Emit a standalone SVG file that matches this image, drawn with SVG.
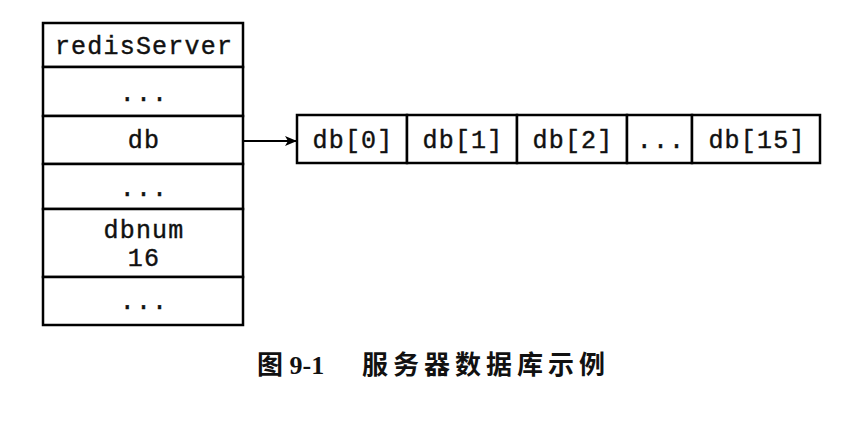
<svg xmlns="http://www.w3.org/2000/svg" width="860" height="426" viewBox="0 0 860 426">
<style>
.box{fill:#fff;stroke:#000;stroke-width:2.5}
.t{font-family:"Liberation Mono","Courier New",monospace;font-size:25px;fill:#111;stroke:#111;stroke-width:0.4;text-anchor:middle;letter-spacing:1.2px}
.cap{font-family:"Liberation Serif","Noto Sans CJK SC",serif;font-weight:bold;font-size:26px;fill:#111}
.conn{stroke:#000;stroke-width:2;fill:none}
</style>
<defs>
<marker id="ah" markerWidth="12" markerHeight="10" refX="11" refY="5" orient="auto" markerUnits="userSpaceOnUse">
<path d="M0,0 L12,5 L0,10 L3,5 Z" fill="#000"/>
</marker>
</defs>
<rect width="860" height="426" fill="#fff"/>
<g id="redisServer">
<rect class="box" x="43" y="23" width="200" height="44"/>
<text class="t" x="144" y="54">redisServer</text>
</g>
<g id="rs-dots1">
<rect class="box" x="43" y="67" width="200" height="49"/>
<text class="t" x="144" y="101">...</text>
</g>
<g id="rs-db">
<rect class="box" x="43" y="116" width="200" height="48"/>
<text class="t" x="144" y="148">db</text>
</g>
<g id="rs-dots2">
<rect class="box" x="43" y="164" width="200" height="45"/>
<text class="t" x="144" y="196">...</text>
</g>
<g id="rs-dbnum">
<rect class="box" x="43" y="209" width="200" height="68"/>
<text class="t" x="144" y="238">dbnum</text>
<text class="t" x="144" y="266">16</text>
</g>
<g id="rs-dots3">
<rect class="box" x="43" y="277" width="200" height="48"/>
<text class="t" x="144" y="309">...</text>
</g>
<g id="db0">
<rect class="box" x="297" y="115" width="110" height="48"/>
<text class="t" x="353" y="148">db[0]</text>
</g>
<g id="db1">
<rect class="box" x="407" y="115" width="110" height="48"/>
<text class="t" x="463" y="148">db[1]</text>
</g>
<g id="db2">
<rect class="box" x="517" y="115" width="110" height="48"/>
<text class="t" x="573" y="148">db[2]</text>
</g>
<g id="db-dots">
<rect class="box" x="627" y="115" width="65" height="48"/>
<text class="t" x="661" y="148">...</text>
</g>
<g id="db15">
<rect class="box" x="692" y="115" width="128" height="48"/>
<text class="t" x="757" y="148">db[15]</text>
</g>
<g id="connectors">
<line class="conn" x1="243" y1="141" x2="296" y2="141" marker-end="url(#ah)"/>
</g>
<text class="cap" x="257" y="374">图 9-1<tspan x="362" letter-spacing="5">服务器数据库示例</tspan></text>
</svg>
